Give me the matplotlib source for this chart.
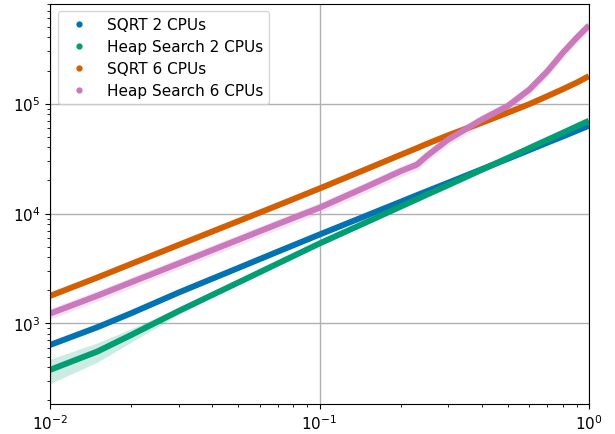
import matplotlib
matplotlib.use("Agg")
import matplotlib.pyplot as plt
from matplotlib.lines import Line2D
import numpy as np

x = [0.01, 0.015, 0.02, 0.03, 0.05, 0.07, 0.1, 0.15, 0.2, 0.23, 0.25, 0.3,
     0.4, 0.5, 0.6, 0.7, 0.8, 0.9, 1.0]

sqrt_2cpu = [637, 925, 1238, 1910, 3200, 4500, 6440, 9620, 12790, 14700, 15950,
             19050, 25300, 31500, 37800, 44100, 50300, 56700, 63000]
heap_2cpu = [378, 556, 785, 1297, 2360, 3510, 5340, 8380, 11560, 13500, 14830,
             18120, 25000, 32050, 39350, 46800, 54300, 62100, 69900]
sqrt_6cpu = [1780, 2620, 3480, 5180, 8530, 11860, 16900, 25500, 34200, 39400,
             43000, 51500, 67000, 82800, 98900, 116900, 135500, 155300, 178000]
heap_6cpu = [1230, 1790, 2370, 3510, 5780, 8020, 11300, 17600, 24300, 27900,
             33400, 47100, 71600, 95300, 134000, 196700, 291000, 398000, 515000]

# relative half-width of the shaded confidence band
sqrt_2cpu_ci = [0.01] * len(x)
heap_2cpu_ci = [0.25, 0.20, 0.14, 0.07, 0.02, 0.01, 0.01, 0.01, 0.01, 0.01, 0.01,
                0.01, 0.01, 0.01, 0.01, 0.01, 0.01, 0.01, 0.01]
sqrt_6cpu_ci = [0.01] * len(x)
heap_6cpu_ci = [0.11] * len(x)

labels = ["SQRT 2 CPUs", "Heap Search 2 CPUs", "SQRT 6 CPUs", "Heap Search 6 CPUs"]
colors = ["#0173b2", "#029e73", "#d55e00", "#cc78bc"]
series = [sqrt_2cpu, heap_2cpu, sqrt_6cpu, heap_6cpu]
cis = [sqrt_2cpu_ci, heap_2cpu_ci, sqrt_6cpu_ci, heap_6cpu_ci]

plt.rcParams["font.size"] = 11
fig = plt.figure(figsize=(6.15, 4.35), dpi=100)
ax = fig.add_axes([50 / 615, 1 - 405 / 435, (589 - 50) / 615, (405 - 4.5) / 435])

xs = np.array(x)
for y, ci, c in zip(series, cis, colors):
    y = np.array(y, dtype=float)
    ci = np.array(ci)
    ax.fill_between(xs, y * (1 - ci), y * (1 + ci), color=c, alpha=0.2, lw=0)
    ax.plot(xs, y, color=c, lw=4.3, solid_capstyle="butt", solid_joinstyle="round")

ax.set_xscale("log")
ax.set_yscale("log")
ax.set_xlim(0.01, 1.0)
ax.set_ylim(185, 815000)
ax.grid(True, which="major", color="#b0b0b0", lw=1)
ax.set_axisbelow(True)

handles = [Line2D([], [], marker="o", ls="none", color=c, markersize=3.5) for c in colors]
ax.legend(handles, labels, loc="upper left", fontsize=11, labelspacing=0.45)

fig.savefig("out.png", dpi=100)
